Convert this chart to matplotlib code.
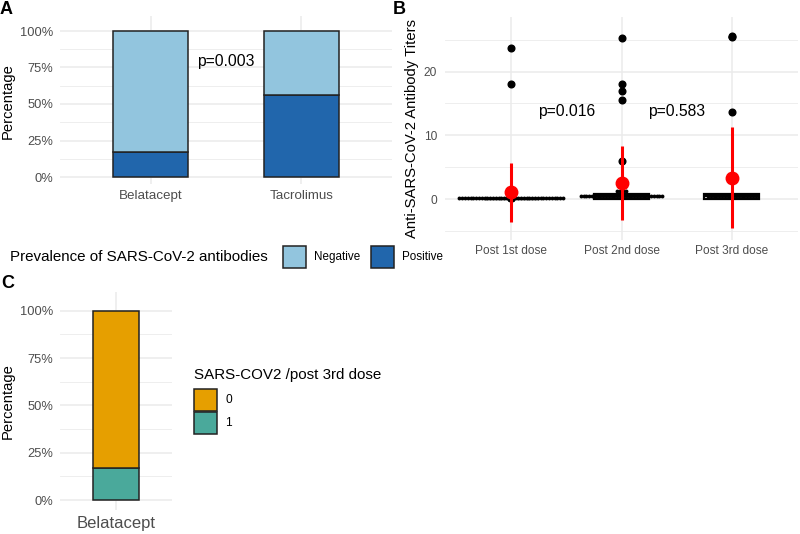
import matplotlib
matplotlib.use("Agg")
import matplotlib.pyplot as plt
from matplotlib.patches import Rectangle
import numpy as np

plt.rcParams["font.family"] = ["Liberation Sans", "DejaVu Sans"]

# ---- 数据 ----
# A: 抗体阳性率（百分比）
groups_a = ["Belatacept", "Tacrolimus"]
positive_pct_a = [17.0, 56.3]
negative_pct_a = [83.0, 43.7]
p_text_a = "p=0.003"

# B: 三次接种后的抗体滴度
doses = ["Post 1st dose", "Post 2nd dose", "Post 3rd dose"]
titers_post1 = [
    0.0, 0.0, 0.0, 0.0, 0.0, 0.0, 0.0, 0.0, 0.0, 0.0,
    0.0, 0.0, 0.0, 0.0, 0.0, 0.0, 0.0, 0.0, 0.0, 0.0,
    0.0, 0.0, 0.0, 0.0, 0.0, 0.0, 0.0, 0.0, 0.0, 0.0,
    0.0, 0.0, 0.1, 0.1, 0.15, 0.2, 0.2, 0.2, 18.0, 23.7,
]
titers_post2 = [
    0.0, 0.0, 0.0, 0.0, 0.0, 0.0, 0.0, 0.0, 0.0, 0.0, 0.0, 0.0,
    0.3, 0.3, 0.35, 0.4, 0.4, 0.45, 0.5, 0.5, 0.55, 0.6,
    0.6, 0.65, 0.7, 0.7, 0.75, 0.8, 0.8, 0.85,
    1.2, 1.2, 1.25, 1.25, 5.9, 15.6, 16.95, 18.0, 25.3,
]
titers_post3 = [
    0.0, 0.0, 0.0, 0.0, 0.0, 0.0, 0.0,
    0.1, 0.2, 0.3, 0.4, 0.5, 0.6, 0.7, 0.75, 0.8, 0.8, 0.85,
    13.6, 25.4, 25.5,
]
p_texts_b = ["p=0.016", "p=0.583"]

# C: 第三针后 Belatacept 组
groups_c = ["Belatacept"]
pct_c_1 = [16.7]
pct_c_0 = [83.3]

# ---- 样式 ----
NEG_COLOR = "#92C5DE"
POS_COLOR = "#2166AC"
ORANGE = "#E69F00"
TEAL = "#4AA99B"
GRID = "#ebebeb"
TICK_COLOR = "#4d4d4d"

W, H = 800, 534
fig = plt.figure(figsize=(W / 100, H / 100), dpi=100)


def px_axes(x0, y0, x1, y1):
    return fig.add_axes([x0 / W, 1 - y1 / H, (x1 - x0) / W, (y1 - y0) / H])


def px_text(x, y, s, **kw):
    fig.text(x / W, 1 - y / H, s, **kw)


def px_box(x0, y0, x1, y1, color):
    fig.add_artist(Rectangle((x0 / W, 1 - y1 / H), (x1 - x0) / W, (y1 - y0) / H,
                             transform=fig.transFigure, facecolor=color,
                             edgecolor="#222222", linewidth=1.1))


def minimal(ax, ysize, xsize, ypad, xpad):
    for s in ax.spines.values():
        s.set_visible(False)
    ax.tick_params(axis="both", which="both", length=0)
    ax.tick_params(axis="y", labelsize=ysize, labelcolor=TICK_COLOR, pad=ypad)
    ax.tick_params(axis="x", labelsize=xsize, labelcolor=TICK_COLOR, pad=xpad)
    ax.grid(True, which="major", color=GRID, linewidth=1.1)
    ax.grid(True, which="minor", axis="y", color=GRID, linewidth=0.6)
    ax.set_axisbelow(True)


pct_ticks = [0, 25, 50, 75, 100]
pct_labels = ["0%", "25%", "50%", "75%", "100%"]
pct_minor = [12.5, 37.5, 62.5, 87.5]

# ---- A ----
ax_a = px_axes(60, 16.4, 392, 184.3)
xa = np.arange(1, len(groups_a) + 1)
ax_a.bar(xa, positive_pct_a, width=0.5, color=POS_COLOR, edgecolor="#222222", linewidth=1.1)
ax_a.bar(xa, negative_pct_a, width=0.5, bottom=positive_pct_a, color=NEG_COLOR,
         edgecolor="#222222", linewidth=1.1)
ax_a.set_xlim(0.4, 2.6)
ax_a.set_ylim(-5, 110)
ax_a.set_xticks(xa, groups_a)
ax_a.set_yticks(pct_ticks, pct_labels)
ax_a.set_yticks(pct_minor, minor=True)
minimal(ax_a, 9.3, 9.6, 4.8, 4.0)
ax_a.text(1.5, 79, p_text_a, fontsize=11.3, ha="center", va="center")
px_text(8, 101, "Percentage", rotation=90, fontsize=10.6, ha="center", va="center")

# A 图例
px_text(10, 257, "Prevalence of SARS-CoV-2 antibodies", fontsize=10.9, va="center")
px_box(283, 246, 306, 268, NEG_COLOR)
px_text(314, 257, "Negative", fontsize=8.4, va="center")
px_box(371, 246, 394, 268, POS_COLOR)
px_text(402, 257, "Positive", fontsize=8.4, va="center")

# ---- B ----
ax_b = px_axes(445, 16.7, 798, 239.8)
titers = [np.array(titers_post1), np.array(titers_post2), np.array(titers_post3)]
xb = np.arange(1, len(doses) + 1)
ax_b.boxplot(titers, positions=xb, widths=0.5, patch_artist=True, showcaps=False,
             boxprops=dict(facecolor="white", edgecolor="black", linewidth=1.6),
             medianprops=dict(color="black", linewidth=1.6),
             whiskerprops=dict(color="black", linewidth=1.0),
             flierprops=dict(marker="o", markerfacecolor="black", markeredgecolor="black",
                             markersize=4.8),
             zorder=3)

# 点图：按 dotdensity 方式分箱后横向铺开
binwidth = 0.85
dot_dx = 0.0254
for pos, vals in zip(xb, titers):
    v = np.sort(vals)
    i = 0
    while i < len(v):
        start = v[i]
        j = i
        while j < len(v) and v[j] <= start + binwidth:
            j += 1
        n = j - i
        yc = (v[i] + v[j - 1]) / 2
        xs = pos + (np.arange(n) - (n - 1) / 2) * dot_dx
        ax_b.plot(xs, np.full(n, yc), "o", color="black", markersize=2.8,
                  markeredgewidth=0, zorder=4)
        i = j

# 均值 ± 标准差
for pos, vals in zip(xb, titers):
    m = vals.mean()
    sd = vals.std(ddof=1)
    ax_b.vlines(pos, m - sd, m + sd, color="red", linewidth=2.2, zorder=5)
    ax_b.plot(pos, m, "o", color="red", markersize=9, zorder=6)

for k, txt in enumerate(p_texts_b):
    ax_b.text(xb[k] + 0.5, 13.7, txt, fontsize=11.3, ha="center", va="center")

ax_b.set_xlim(0.4, 3.6)
ax_b.set_ylim(-6.4, 28.6)
ax_b.set_xticks(xb, doses)
ax_b.set_yticks([0, 10, 20])
ax_b.set_yticks([-5, 5, 15, 25], minor=True)
minimal(ax_b, 8.6, 8.6, 5.8, 3.6)
px_text(412, 128, "Anti-SARS-CoV-2 Antibody Titers", rotation=90, fontsize=10.7,
        ha="center", va="center")

# ---- C ----
ax_c = px_axes(60, 291.8, 172, 509.5)
xc = np.arange(1, len(groups_c) + 1)
ax_c.bar(xc, pct_c_1, width=0.5, color=TEAL, edgecolor="#222222", linewidth=1.1)
ax_c.bar(xc, pct_c_0, width=0.5, bottom=pct_c_1, color=ORANGE, edgecolor="#222222",
         linewidth=1.1)
ax_c.set_xlim(0.4, 1.6)
ax_c.set_ylim(-5, 110)
ax_c.set_xticks(xc, groups_c)
ax_c.set_yticks(pct_ticks, pct_labels)
ax_c.set_yticks(pct_minor, minor=True)
minimal(ax_c, 9.3, 12.0, 4.8, 4.7)
px_text(8, 401, "Percentage", rotation=90, fontsize=10.6, ha="center", va="center")

# C 图例
px_text(194, 375, "SARS-COV2 /post 3rd dose", fontsize=10.9, va="center")
px_box(194, 389, 217, 411, ORANGE)
px_box(194, 412, 217, 434, TEAL)
px_text(225, 400, "0", fontsize=8.6, va="center")
px_text(225, 423, "1", fontsize=8.6, va="center")

# 面板字母
px_text(0, 9, "A", fontsize=13, fontweight="bold", va="center")
px_text(393, 9, "B", fontsize=13, fontweight="bold", va="center")
px_text(1, 284, "C", fontsize=13, fontweight="bold", va="center")

fig.savefig("out.png", dpi=100)
